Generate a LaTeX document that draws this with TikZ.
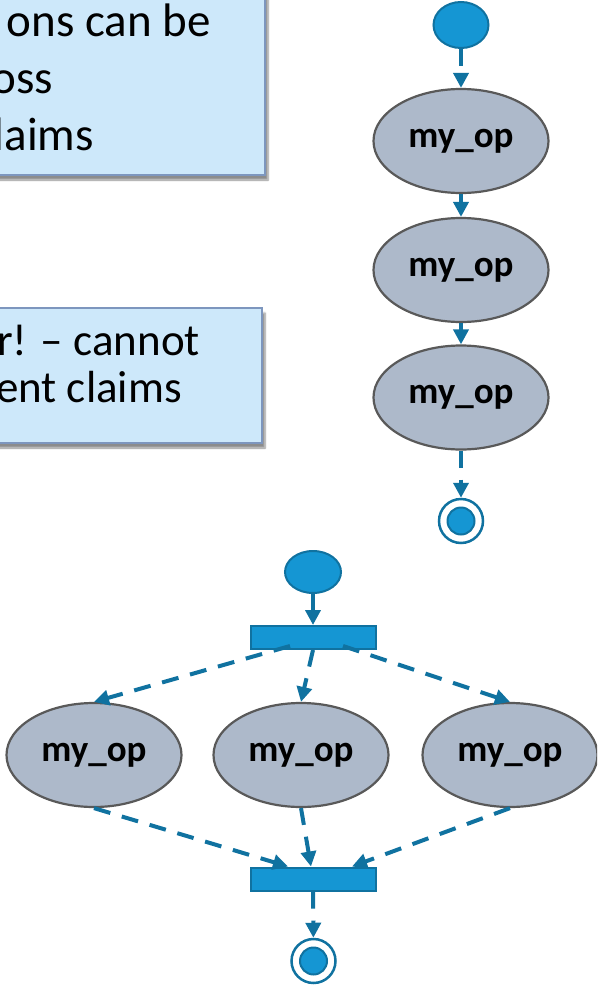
\documentclass[tikz,border=0pt]{standalone}
\usepackage{fontspec}
\setmainfont{Carlito}
\usetikzlibrary{arrows.meta,shapes.geometric,shadows.blur}

\definecolor{flowline}{RGB}{16,114,160}
\definecolor{markfill}{RGB}{21,150,211}
\definecolor{opfill}{RGB}{173,185,202}
\definecolor{opedge}{RGB}{89,89,89}
\definecolor{notefill}{RGB}{205,232,250}
\definecolor{noteedge}{RGB}{125,150,190}

\begin{document}
\begin{tikzpicture}[x=1pt,y=-1pt,
  opnode/.style={ellipse, draw=opedge, line width=2.2pt, fill=opfill,
    minimum width=175pt, minimum height=104pt, inner sep=0pt,
    font=\fontsize{37}{40}\selectfont\bfseries},
  startmark/.style={ellipse, draw=flowline, line width=2pt, fill=markfill, inner sep=0pt},
  endring/.style={circle, draw=flowline, line width=2.5pt, fill=white,
    minimum size=44pt, inner sep=0pt},
  enddot/.style={circle, draw=flowline, line width=2pt, fill=markfill,
    minimum size=27pt, inner sep=0pt},
  syncbar/.style={rectangle, draw=flowline, line width=2pt, fill=markfill,
    minimum width=125pt, minimum height=23pt, inner sep=0pt},
  notebox/.style={rectangle, draw=noteedge, line width=1.2pt, fill=notefill, inner sep=0pt,
    blur shadow={shadow xshift=3pt, shadow yshift=-5pt, shadow opacity=45, shadow blur steps=6}},
  notetext/.style={anchor=base east, inner sep=0pt},
  flow/.style={draw=flowline, line width=4pt, -{Triangle[length=15pt,width=15pt]}},
  flowdash/.style={flow, dash pattern=on 17pt off 12pt},
]
\clip (0,0) rectangle (597,990);

% note boxes
\node[notebox, minimum width=300pt, minimum height=210pt] (noteA) at (115,70) {};
\node[notebox, minimum width=297pt, minimum height=135pt] (noteB) at (113.5,375.5) {};
\begin{scope}[every node/.append style={font=\fontsize{47}{56}\selectfont}]
  \node[notetext] (noteA1) at (211,37) {ons can be};
  \node[notetext] (noteA2) at (53,93) {oss};
  \node[notetext] (noteA3) at (94,150) {laims};
\end{scope}
\begin{scope}[every node/.append style={font=\fontsize{45}{54}\selectfont}]
  \node[notetext] (noteB1) at (200,355) {r! – cannot};
  \node[notetext] (noteB2) at (182,402) {ent claims};
\end{scope}

% sequential chain
\node[startmark, minimum width=55pt, minimum height=46pt] (sA) at (461,25) {};
\node[opnode] (opA1) at (461,141) {my\_op};
\node[opnode] (opA2) at (461,270) {my\_op};
\node[opnode] (opA3) at (461,397.5) {my\_op};
\node[endring] (eA) at (461,521) {};
\node[enddot] (eAdot) at (eA) {};

\draw[flowdash] (sA) -- (opA1);
\draw[flow] (opA1) -- (opA2);
\draw[flow] (opA2) -- (opA3);
\draw[flowdash] (opA3) -- (eA);

% parallel fork / join
\node[startmark, minimum width=56pt, minimum height=42pt] (sB) at (313,572) {};
\node[syncbar] (fork) at (313,637.5) {};
\node[opnode] (opB1) at (94,755) {my\_op};
\node[opnode] (opB2) at (301,755) {my\_op};
\node[opnode] (opB3) at (510,755) {my\_op};
\node[syncbar] (join) at (313,879) {};
\node[endring] (eB) at (313.5,961) {};
\node[enddot] (eBdot) at (eB) {};

\coordinate (forkL) at ([xshift=-23pt,yshift=4pt]fork.south);
\coordinate (forkR) at ([xshift=30pt,yshift=4pt]fork.south);
\coordinate (joinL) at ([xshift=-25pt]join.north);
\coordinate (joinM) at ([xshift=-2pt]join.north);
\coordinate (joinR) at ([xshift=39pt]join.north);

\draw[flow] (sB) -- (fork);
\draw[flowdash] (forkL) -- (opB1.north);
\draw[flowdash] (fork.south) -- (opB2.north);
\draw[flowdash] (forkR) -- (opB3.north);
\draw[flowdash] (opB1.south) -- (joinL);
\draw[flowdash] (opB2.south) -- (joinM);
\draw[flowdash] (opB3.south) -- (joinR);
\draw[flowdash] (join) -- (eB);
\end{tikzpicture}
\end{document}
